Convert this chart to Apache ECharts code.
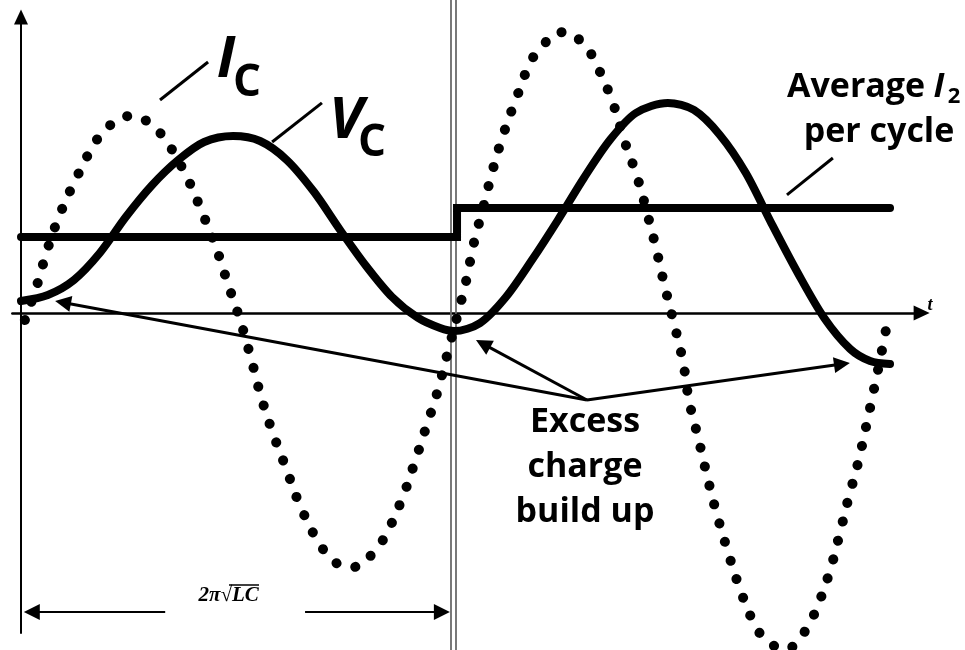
<!DOCTYPE html>
<html>
<head>
<meta charset="utf-8">
<script src="https://cdn.jsdelivr.net/npm/echarts@6/dist/echarts.min.js"></script>
<style>
  html, body { margin: 0; padding: 0; background: #fff; }
  #chart { width: 965px; height: 650px; }
</style>
</head>
<body>
<div id="chart"></div>
<script>
// t in units where one LC period (2π√LC) = 10, amplitude in arbitrary units
const vcData = [
  [0, 0.75], [0.62, 1.13], [1.22, 2.06], [1.82, 3.75], [2.42, 6.0], [3.03, 8.0],
  [3.63, 9.56], [4.23, 10.69], [4.9, 11.06], [5.52, 10.75], [6.14, 9.56], [6.77, 7.56],
  [7.37, 5.19], [7.97, 2.94], [8.57, 1.0], [9.17, -0.31], [9.68, -0.94], [10.0, -1.13],
  [10.6, -0.63], [11.2, 1.0], [11.8, 3.31], [12.4, 5.81], [13.0, 8.44], [13.6, 10.81],
  [14.2, 12.5], [14.94, 13.13], [15.54, 12.69], [16.14, 11.13], [16.74, 8.75],
  [17.34, 5.56], [17.94, 2.5], [18.55, -0.31], [19.15, -2.25], [19.61, -3.0], [20.07, -3.19]
]
const icData = [
  [0.09, -0.44], [0.37, 1.75], [0.62, 4.06], [0.92, 6.31], [1.29, 8.5], [1.69, 10.56],
  [1.96, 11.5], [2.33, 12.2], [2.54, 12.31], [2.77, 12.2], [3.12, 11.5], [3.39, 10.63],
  [3.83, 8.5], [4.18, 6.31], [4.5, 4.13], [4.78, 1.81], [5.06, -0.44], [5.31, -2.81],
  [5.54, -5.19], [5.8, -7.38], [6.12, -9.69], [6.42, -11.88], [6.81, -14.06],
  [7.07, -15.06], [7.41, -15.81], [7.62, -15.88], [7.83, -15.75], [8.15, -14.94],
  [8.41, -13.94], [8.78, -11.75], [9.08, -9.44], [9.35, -7.19], [9.61, -5.0],
  [9.84, -2.63], [10.07, -0.25], [10.28, 2.0], [10.46, 4.38], [10.69, 6.75], [10.9, 9.0],
  [11.15, 11.25], [11.45, 13.5], [11.78, 15.75], [12.06, 16.75], [12.38, 17.5],
  [12.59, 17.56], [12.82, 17.25], [13.12, 16.38], [13.33, 15.31], [13.67, 13.13],
  [13.93, 10.81], [14.23, 8.5], [14.46, 6.25], [14.67, 4.0], [14.87, 1.63], [15.08, -0.63],
  [15.29, -3.06], [15.43, -5.5], [15.64, -7.81], [15.84, -10.13], [16.05, -12.38],
  [16.3, -14.69], [16.58, -17.06], [16.91, -19.31], [17.14, -20.25], [17.51, -20.94],
  [17.69, -21.0], [17.9, -20.63], [18.15, -19.69], [18.36, -18.56], [18.66, -16.31],
  [18.89, -14.0], [19.1, -11.69], [19.33, -9.38], [19.52, -7.06], [19.7, -4.75],
  [19.88, -2.38], [20.05, 0]
]
// average I2 per cycle (first cycle, then after the step)
const avgI2Data = [[0, 4.75], [10.07, 4.75], [10.07, 6.56], [20.07, 6.56]]
// end of first cycle, drawn as a double line
const cycleEnd = [9.92, 10.03]

const chart = echarts.init(document.getElementById('chart'))

const black = '#000'
// helper for straight annotation segments
function seg(a, b) {
  return { coords: [a, b] }
}

const option = {
  backgroundColor: '#fff',
  animation: false,
  grid: { left: 12.34, right: 43.36, top: 17, bottom: 17 },
  xAxis: {
    type: 'value',
    min: -0.2,
    max: 20.8,
    axisLine: {
      onZero: true,
      symbol: ['none', 'triangle'],
      symbolSize: [15, 16],
      lineStyle: { color: black, width: 2.5 }
    },
    axisTick: { show: false },
    axisLabel: { show: false },
    splitLine: { show: false }
  },
  yAxis: {
    type: 'value',
    min: -20,
    max: 18.5,
    axisLine: {
      onZero: true,
      symbol: ['none', 'triangle'],
      symbolSize: [14, 15],
      lineStyle: { color: black, width: 2 }
    },
    axisTick: { show: false },
    axisLabel: { show: false },
    splitLine: { show: false }
  },
  series: [
    {
      // double line marking one period
      type: 'lines',
      coordinateSystem: 'cartesian2d',
      clip: false,
      silent: true,
      lineStyle: { color: '#6a6a6a', width: 1.8, opacity: 1 },
      data: cycleEnd.map((x) => seg([x, 19.6], [x, -21.1]))
    },
    {
      name: 'Ic',
      type: 'line',
      data: icData,
      smooth: 0.4,
      clip: false,
      showSymbol: false,
      lineStyle: { color: black, width: 10, type: [0.1, 19.4], cap: 'round' }
    },
    {
      name: 'Vc',
      type: 'line',
      data: vcData,
      smooth: 0.3,
      clip: false,
      showSymbol: false,
      lineStyle: { color: black, width: 8, cap: 'round' }
    },
    {
      name: 'Average I2',
      type: 'line',
      data: avgI2Data,
      clip: false,
      showSymbol: false,
      lineStyle: { color: black, width: 8, cap: 'round', join: 'miter' }
    },
    {
      // leader lines for labels
      type: 'lines',
      coordinateSystem: 'cartesian2d',
      clip: false,
      silent: true,
      lineStyle: { color: black, width: 3, opacity: 1 },
      data: [
        seg([3.21, 13.31], [4.32, 15.69]),
        seg([5.8, 10.69], [6.95, 13.13]),
        seg([17.69, 7.38], [18.75, 9.69])
      ]
    },
    {
      // arrows to excess charge build up
      type: 'lines',
      coordinateSystem: 'cartesian2d',
      clip: false,
      silent: true,
      symbol: ['none', 'triangle'],
      symbolSize: [12, 16],
      lineStyle: { color: black, width: 3, opacity: 1 },
      data: [
        seg([13.07, -5.44], [0.97, 0.66]),
        seg([13.07, -5.44], [10.67, -1.93]),
        seg([13.07, -5.44], [18.96, -3.19])
      ]
    },
    {
      // period dimension arrows
      type: 'lines',
      coordinateSystem: 'cartesian2d',
      clip: false,
      silent: true,
      symbol: ['none', 'triangle'],
      symbolSize: [13, 16],
      lineStyle: { color: black, width: 2, opacity: 1 },
      data: [
        seg([3.33, -18.69], [0.25, -18.69]),
        seg([6.56, -18.69], [9.72, -18.69])
      ]
    }
  ],
  graphic: []
}

function txt(text, x, y, font, align) {
  return {
    type: 'text',
    silent: true,
    style: {
      text: text,
      x: x,
      y: y,
      font: font,
      fill: black,
      align: align || 'center',
      verticalAlign: 'middle',
      textAlign: align || 'center',
      textVerticalAlign: 'middle'
    }
  }
}

const sans = '"Open Sans", sans-serif'
const serif = 'italic bold 21px "Liberation Serif", serif'
option.graphic = [
  txt('I', 226, 60, 'italic bold 58px ' + sans),
  txt('C', 247, 83, 'bold 44px ' + sans),
  txt('V', 346, 121, 'italic bold 58px ' + sans),
  txt('C', 372, 143, 'bold 44px ' + sans),
  txt('Average', 787, 87, 'bold 34px ' + sans, 'left'),
  txt('I', 939, 87, 'italic bold 34px ' + sans),
  txt('2', 954, 97, 'bold 22px ' + sans),
  txt('per cycle', 879, 132, 'bold 34px ' + sans),
  txt('Excess', 585, 422, 'bold 34px ' + sans),
  txt('charge', 585, 467, 'bold 34px ' + sans),
  txt('build up', 585, 512, 'bold 34px ' + sans),
  txt('2π√', 232, 596, serif, 'right'),
  txt('LC', 232, 596, serif, 'left'),
  {
    // vinculum over LC
    type: 'line',
    silent: true,
    shape: { x1: 229, y1: 585, x2: 259, y2: 585 },
    style: { stroke: black, lineWidth: 1.5 }
  },
  txt('t', 930, 305, 'italic bold 18px "Liberation Serif", serif')
]

chart.setOption(option)
</script>
</body>
</html>
